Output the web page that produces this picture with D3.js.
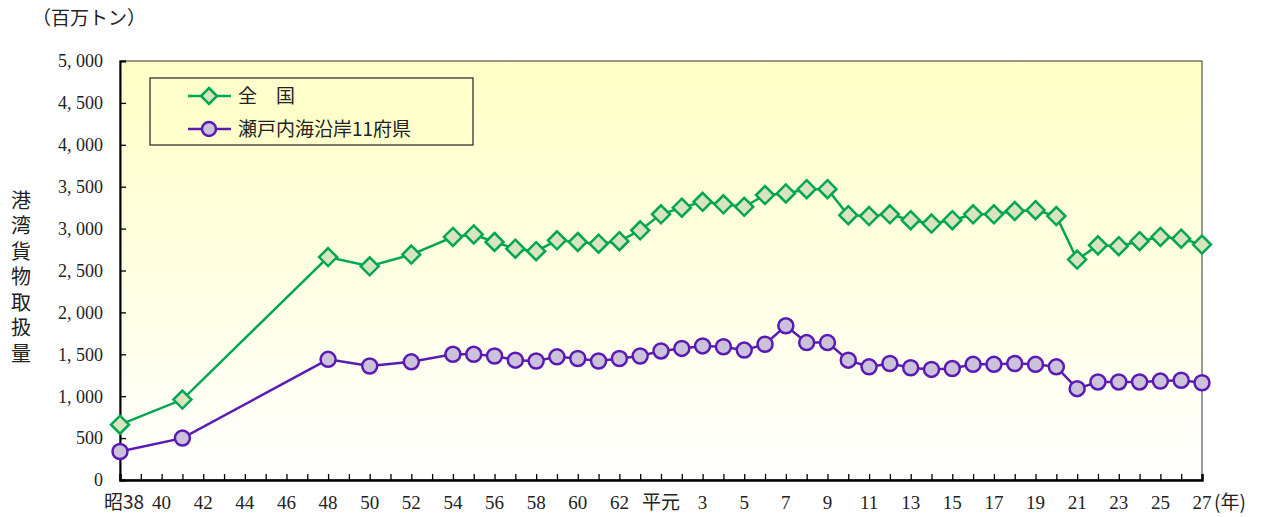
<!DOCTYPE html>
<html>
<head>
<meta charset="utf-8">
<script src="https://cdn.jsdelivr.net/npm/d3@7"></script>
<style>
  body { margin: 0; background: #fff; }
  svg text { fill: #222; }
</style>
</head>
<body>
<svg id="chart" width="1266" height="517"></svg>
<script>
// years (西暦) and values in 百万トン
var years = [1963, 1966, 1973, 1975, 1977, 1979, 1980, 1981, 1982, 1983, 1984, 1985, 1986, 1987, 1988,
             1989, 1990, 1991, 1992, 1993, 1994, 1995, 1996, 1997, 1998, 1999, 2000, 2001, 2002, 2003,
             2004, 2005, 2006, 2007, 2008, 2009, 2010, 2011, 2012, 2013, 2014, 2015];
var national = [660, 960, 2660, 2550, 2690, 2900, 2930, 2840, 2760, 2730, 2860, 2840, 2820, 2850, 2980,
                3170, 3250, 3320, 3290, 3260, 3400, 3420, 3470, 3470, 3160, 3150, 3170, 3100, 3060, 3100,
                3170, 3170, 3210, 3220, 3150, 2630, 2800, 2790, 2850, 2900, 2880, 2810];
var setouchi = [340, 500, 1440, 1360, 1410, 1500, 1500, 1480, 1430, 1420, 1470, 1450, 1420, 1450, 1480,
                1540, 1570, 1600, 1590, 1550, 1620, 1840, 1640, 1640, 1430, 1350, 1390, 1340, 1320, 1330,
                1380, 1380, 1390, 1380, 1350, 1090, 1170, 1170, 1170, 1180, 1190, 1160];
var seriesNames = ["全　国", "瀬戸内海沿岸11府県"];
var yTicks = [0, 500, 1000, 1500, 2000, 2500, 3000, 3500, 4000, 4500, 5000];

function yearLabel(y) {
    if (y < 1989) return (y === 1963 ? "昭" : "") + (y - 1925);
    if (y === 1989) return "平元";
    return String(y - 1988);
}
function numLabel(v) {
    if (v < 1000) return String(v);
    return d3.format(",")(v).replace(",", ", ");
}

var svg = d3.select("#chart");
var margin = {top: 61, left: 120, right: 64, bottom: 37};
var width = 1266 - margin.left - margin.right;
var height = 517 - margin.top - margin.bottom;
var numFont = "'Liberation Serif', 'DejaVu Serif', serif";
var jpFont = "'Noto Sans CJK JP', sans-serif";

var x = d3.scaleLinear().domain([1963, 2015]).range([0, width]);
var y = d3.scaleLinear().domain([0, 5000]).range([height, 0]);

var defs = svg.append("defs");
var grad = defs.append("linearGradient")
    .attr("id", "bg").attr("x1", 0).attr("y1", 0).attr("x2", 0).attr("y2", 1);
grad.append("stop").attr("offset", "0%").attr("stop-color", "#ffffc6");
grad.append("stop").attr("offset", "100%").attr("stop-color", "#ffffff");

var g = svg.append("g").attr("transform", "translate(" + margin.left + "," + margin.top + ")");

g.append("rect")
    .attr("width", width).attr("height", height)
    .attr("fill", "url(#bg)")
    .attr("stroke", "#333").attr("stroke-width", 1);

// y axis, ticks pointing inward
var yAxis = g.append("g")
    .call(d3.axisRight(y).tickValues(yTicks).tickSize(6).tickFormat(""));
yAxis.select(".domain").attr("stroke", "#000").attr("stroke-width", 2);
yAxis.selectAll(".tick line").attr("stroke", "#000").attr("stroke-width", 1.3);

g.selectAll(".ylab")
    .data(yTicks)
    .enter().append("text")
    .attr("class", "ylab")
    .attr("x", -17)
    .attr("y", function (d) { return y(d); })
    .attr("dy", "0.35em")
    .attr("text-anchor", "end")
    .attr("font-family", numFont)
    .attr("font-size", 18)
    .text(numLabel);

// x axis, ticks every year pointing inward
var allYears = d3.range(1963, 2016);
var xAxis = g.append("g")
    .attr("transform", "translate(0," + height + ")")
    .call(d3.axisTop(x).tickValues(allYears).tickSize(6).tickFormat(""));
xAxis.select(".domain").attr("stroke", "#000").attr("stroke-width", 2.5);
xAxis.selectAll(".tick line").attr("stroke", "#000").attr("stroke-width", 1.3);

var labelYears = [1963].concat(d3.range(1965, 2016, 2));

g.selectAll(".xlab")
    .data(labelYears)
    .enter().append("text")
    .attr("class", "xlab")
    .attr("x", function (d) { return x(d) + (d === 1963 ? 4 : 0); })
    .attr("y", height + 29)
    .attr("text-anchor", "middle")
    .attr("font-family", function (d) { return (d === 1963 || d === 1989) ? jpFont : numFont; })
    .attr("font-size", 19)
    .text(yearLabel);

g.append("text")
    .attr("x", x(2015) + 12)
    .attr("y", height + 29)
    .attr("font-family", jpFont)
    .attr("font-size", 19)
    .text("(年)");

// unit and axis title
svg.append("text")
    .attr("x", 32).attr("y", 25)
    .attr("font-family", jpFont)
    .attr("font-size", 19)
    .text("（百万トン）");

svg.append("text")
    .attr("x", 21)
    .attr("y", 190)
    .attr("font-family", jpFont)
    .attr("font-size", 20)
    .style("writing-mode", "vertical-rl")
    .style("letter-spacing", "5.5px")
    .text("港湾貨物取扱量");

// series
var styles = [
    {stroke: "#00a651", fill: "#d7e4bd"},
    {stroke: "#5b1ab4", fill: "#ccc1da"}
];
var data = [national, setouchi];

var line = d3.line()
    .x(function (d, i) { return x(years[i]); })
    .y(function (d) { return y(d); });

var diamond = function (s) {
    return "M0," + (-s) + "L" + s + ",0L0," + s + "L" + (-s) + ",0Z";
};

data.forEach(function (vals, k) {
    g.append("path")
        .datum(vals)
        .attr("d", line)
        .attr("fill", "none")
        .attr("stroke", styles[k].stroke)
        .attr("stroke-width", 2.5);

    var pts = g.append("g").selectAll("path")
        .data(vals)
        .enter().append("path")
        .attr("transform", function (d, i) { return "translate(" + x(years[i]) + "," + y(d) + ")"; })
        .attr("fill", styles[k].fill)
        .attr("stroke", styles[k].stroke)
        .attr("stroke-width", 2.5);
    if (k === 0) pts.attr("d", diamond(9));
    else pts.attr("d", d3.symbol().type(d3.symbolCircle).size(Math.PI * 7.5 * 7.5));
});

// legend
var legend = svg.append("g").attr("transform", "translate(150,78)");
legend.append("rect")
    .attr("width", 323).attr("height", 67)
    .attr("fill", "#ffffcc")
    .attr("stroke", "#333").attr("stroke-width", 1.3);

var items = legend.selectAll(".item")
    .data(seriesNames)
    .enter().append("g")
    .attr("transform", function (d, i) { return "translate(0," + (18 + i * 33) + ")"; });

items.append("line")
    .attr("x1", 38).attr("x2", 81)
    .attr("stroke", function (d, i) { return styles[i].stroke; })
    .attr("stroke-width", 2.5);

items.append("path")
    .attr("transform", "translate(59,0)")
    .attr("d", function (d, i) {
        return i === 0 ? diamond(8) : d3.symbol().type(d3.symbolCircle).size(Math.PI * 7 * 7)();
    })
    .attr("fill", function (d, i) { return styles[i].fill; })
    .attr("stroke", function (d, i) { return styles[i].stroke; })
    .attr("stroke-width", 2.5);

items.append("text")
    .attr("x", 88)
    .attr("dy", "0.36em")
    .attr("font-family", jpFont)
    .attr("font-size", 19)
    .text(function (d) { return d; });
</script>
</body>
</html>
